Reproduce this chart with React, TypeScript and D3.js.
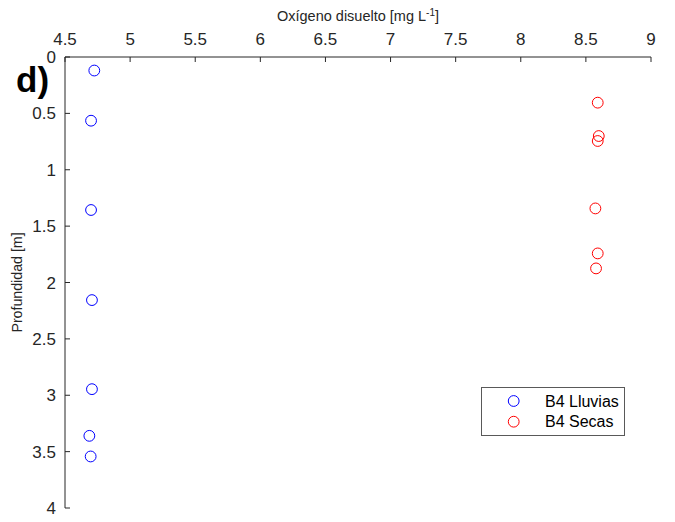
import React from "react";
import * as d3 from "d3";

const lluviasOD = [4.725, 4.70, 4.70, 4.707, 4.707, 4.687, 4.697];
const lluviasDepth = [0.12, 0.565, 1.357, 2.156, 2.946, 3.36, 3.543];
const secasOD = [8.591, 8.599, 8.591, 8.573, 8.591, 8.578];
const secasDepth = [0.405, 0.701, 0.745, 1.343, 1.742, 1.875];
const xTicks = [4.5, 5, 5.5, 6, 6.5, 7, 7.5, 8, 8.5, 9];
const yTicks = [0, 0.5, 1, 1.5, 2, 2.5, 3, 3.5, 4];
const legendLabels = ["B4 Lluvias", "B4 Secas"];
const colors = ["#0000ff", "#ff0000"];

const W = 675, H = 522;
const FONT = "'Liberation Sans', Arial, Helvetica, sans-serif";

export default function App() {
  const x = d3.scaleLinear().domain([4.5, 9]).range([65, 651]);
  const y = d3.scaleLinear().domain([0, 4]).range([57, 508]);
  const axisColor = "#262626";
  const series = [
    { xs: lluviasOD, ys: lluviasDepth, color: colors[0] },
    { xs: secasOD, ys: secasDepth, color: colors[1] },
  ];
  return (
    <svg width={W} height={H} style={{ position: "absolute", left: 0, top: 0, background: "#fff" }} fontFamily={FONT}>
      <rect x={0} y={0} width={W} height={H} fill="#fff" />
      {/* axes */}
      <line x1={x(4.5)} x2={x(9)} y1={y(0)} y2={y(0)} stroke={axisColor} strokeWidth={1} />
      <line x1={x(4.5)} x2={x(4.5)} y1={y(0)} y2={y(4)} stroke={axisColor} strokeWidth={1} />
      {xTicks.map((t) => (
        <g key={"x" + t}>
          <line x1={x(t)} x2={x(t)} y1={y(0)} y2={y(0) + 5} stroke={axisColor} strokeWidth={1} />
          <text x={x(t)} y={45} textAnchor="middle" fontSize={17} fill={axisColor}>{t}</text>
        </g>
      ))}
      {yTicks.map((t) => (
        <g key={"y" + t}>
          <line x1={x(4.5)} x2={x(4.5) + 5} y1={y(t)} y2={y(t)} stroke={axisColor} strokeWidth={1} />
          <text x={56} y={y(t) + 6} textAnchor="end" fontSize={17} fill={axisColor}>{t}</text>
        </g>
      ))}
      <text x={(x(4.5) + x(9)) / 2} y={21} textAnchor="middle" fontSize={14.5} fill={axisColor}>
        Oxígeno disuelto [mg L<tspan dy={-5} fontSize={10}>-1</tspan><tspan dy={5}>]</tspan>
      </text>
      <text transform={`translate(22,${(y(0) + y(4)) / 2}) rotate(-90)`} textAnchor="middle" fontSize={14.2} fill={axisColor}>
        Profundidad [m]
      </text>
      <text x={16} y={92} fontSize={35} fontWeight="bold" fill="#000">d)</text>
      {series.map((s, i) => (
        <g key={"s" + i}>
          {s.xs.map((v, j) => (
            <circle key={j} cx={x(v)} cy={y(s.ys[j])} r={5.4} fill="none" stroke={s.color} strokeWidth={1} />
          ))}
        </g>
      ))}
      {/* legend */}
      <rect x={481.5} y={387.5} width={143} height={48} fill="#fff" stroke="#595959" strokeWidth={1} />
      {legendLabels.map((l, i) => (
        <g key={l}>
          <circle cx={513.7} cy={401 + i * 20.7} r={5.4} fill="none" stroke={colors[i]} strokeWidth={1} />
          <text x={545} y={406.5 + i * 20.7} fontSize={16} fill="#000">{l}</text>
        </g>
      ))}
    </svg>
  );
}
